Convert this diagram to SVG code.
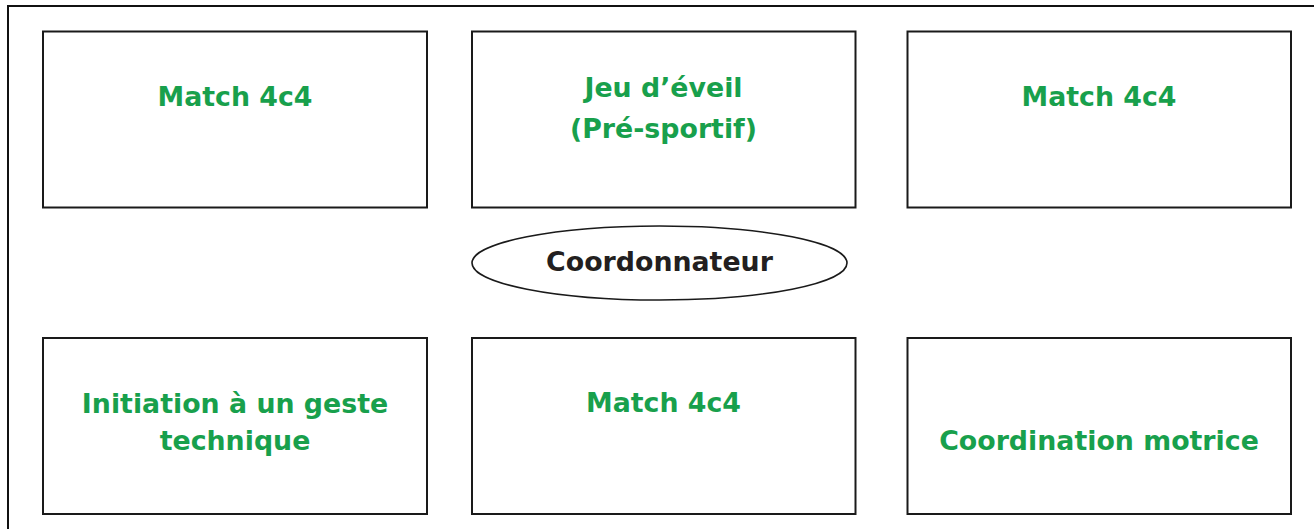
<svg xmlns="http://www.w3.org/2000/svg" width="1314" height="529" viewBox="0 0 1314 529">
<style>
.box{fill:#fff;stroke:#1a1a1a;stroke-width:2}
.lbl{font-family:"DejaVu Sans","Liberation Sans",sans-serif;font-weight:bold;font-size:26.8px;fill:#18a04c;text-anchor:middle}
.dark{fill:#231f20}
</style>
<rect x="0" y="0" width="1314" height="529" fill="#fff"/>
<rect id="frame" x="8" y="6" width="1320" height="540" fill="none" stroke="#111" stroke-width="2"/>
<g id="connectors"></g>
<g id="n1"><rect class="box" x="43" y="31.5" width="384" height="176"/><text class="lbl" x="235" y="106">Match 4c4</text></g>
<g id="n2"><rect class="box" x="472" y="31.5" width="383.5" height="176"/><text class="lbl" x="663.5" y="97">Jeu d’éveil</text><text class="lbl" x="663.5" y="138">(Pré-sportif)</text></g>
<g id="n3"><rect class="box" x="907.5" y="31.5" width="383.5" height="176"/><text class="lbl" x="1099" y="106">Match 4c4</text></g>
<g id="coord"><ellipse cx="659.5" cy="263" rx="187.5" ry="37" fill="#fff" stroke="#1a1a1a" stroke-width="1.6"/><text class="lbl dark" x="659.5" y="271">Coordonnateur</text></g>
<g id="n4"><rect class="box" x="43" y="338" width="384" height="176"/><text class="lbl" x="235" y="413">Initiation à un geste</text><text class="lbl" x="235" y="450">technique</text></g>
<g id="n5"><rect class="box" x="472" y="338" width="383.5" height="176"/><text class="lbl" x="663.5" y="412">Match 4c4</text></g>
<g id="n6"><rect class="box" x="907.5" y="338" width="383.5" height="176"/><text class="lbl" x="1099" y="450">Coordination motrice</text></g>
</svg>
